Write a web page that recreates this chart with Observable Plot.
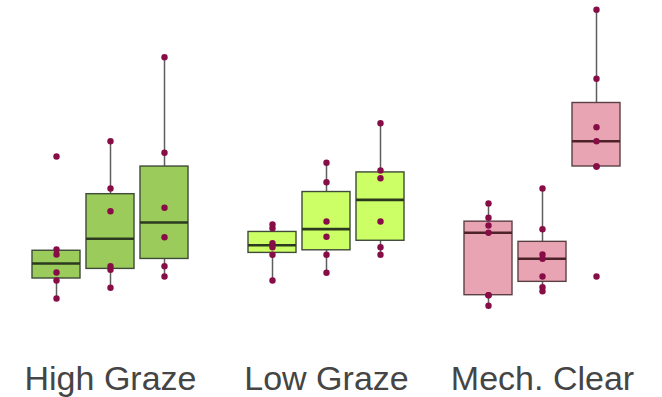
<!DOCTYPE html>
<html><head><meta charset="utf-8">
<script src="https://cdn.jsdelivr.net/npm/d3@7"></script>
<script src="https://cdn.jsdelivr.net/npm/@observablehq/plot@0.6"></script>
<style>body{margin:0;background:#fff;} svg text{font-family:"Liberation Sans", Arial, sans-serif !important;}</style>
</head><body><div id="chart"></div>
<script>
// Treatments (groups) and the three plots shown for each
const groups = ["High Graze", "Low Graze", "Mech. Clear"];
const plots = ["1", "2", "3"];

// Values per plot (arbitrary units)
const highGraze1 = [164, 71, 66, 48, 40, 22];
const highGraze2 = [179.3, 132, 109.3, 54.3, 50.7, 32.7];
const highGraze3 = [263.3, 167.7, 112.7, 83.3, 54.3, 44];
const lowGraze1 = [96, 92.3, 77.3, 73.3, 65.7, 40];
const lowGraze2 = [157.7, 138.3, 99, 83.7, 65.7, 47.7];
const lowGraze3 = [197.3, 150, 142.3, 99, 73.3, 65.7];
const mechClear1 = [117, 102.7, 95, 87.7, 25.3, 25.3, 14.7];
const mechClear2 = [132, 91.3, 66, 61.7, 44, 33.3, 29.3];
const mechClear3 = [310.7, 241.7, 193.3, 179.3, 154, 154, 44];

const seriesByGroup = {
  "High Graze": [highGraze1, highGraze2, highGraze3],
  "Low Graze": [lowGraze1, lowGraze2, lowGraze3],
  "Mech. Clear": [mechClear1, mechClear2, mechClear3]
};

// Styles
const fillColor = {"High Graze": "#9acb5b", "Low Graze": "#ccff66", "Mech. Clear": "#e9a4b4"};
const edgeColor = {"High Graze": "#3f4a38", "Low Graze": "#3f4a38", "Mech. Clear": "#5a4045"};
const medianColor = {"High Graze": "#2b3a1e", "Low Graze": "#2b3a1e", "Mech. Clear": "#4e2229"};

const key = (g, p) => `${g}|${p}`;
const domain = [];
groups.forEach((g, i) => {
  plots.forEach(p => domain.push(key(g, p)));
  if (i < groups.length - 1) domain.push(`gap${i}`);
});

const points = [];
const stats = [];
groups.forEach(g => {
  seriesByGroup[g].forEach((vals, j) => {
    const k = key(g, plots[j]);
    vals.forEach(v => points.push({group: g, key: k, value: v}));
    const s = vals.slice().sort(d3.ascending);
    const q1 = d3.quantile(s, 0.25), med = d3.quantile(s, 0.5), q3 = d3.quantile(s, 0.75);
    const iqr = q3 - q1;
    const lo = d3.min(s.filter(v => v >= q1 - 1.5 * iqr));
    const hi = d3.max(s.filter(v => v <= q3 + 1.5 * iqr));
    stats.push({group: g, key: k, q1, med, q3, lo, hi});
  });
});

const chart = Plot.plot({
  width: 662,
  height: 397,
  marginLeft: 29,
  marginRight: 39,
  marginTop: 0,
  marginBottom: 77,
  x: {domain, paddingInner: 0.111, paddingOuter: 0.0555, axis: null},
  y: {domain: [0, 320], axis: null},
  style: {fontFamily: "Liberation Sans, Arial, sans-serif", background: "#fff"},
  marks: [
    Plot.ruleX(stats, {x: "key", y1: "lo", y2: "hi", stroke: "#5e5e5e", strokeWidth: 1.5}),
    Plot.barY(stats, {
      x: "key", y1: "q1", y2: "q3", inset: 0,
      fill: {value: d => fillColor[d.group], scale: null},
      stroke: {value: d => edgeColor[d.group], scale: null},
      strokeWidth: 1.4
    }),
    Plot.tickY(stats, {
      x: "key", y: "med",
      stroke: {value: d => medianColor[d.group], scale: null},
      strokeWidth: 2.6
    }),
    Plot.dot(points, {x: "key", y: "value", r: 3.2, fill: "#870d47", stroke: null}),
    Plot.text(groups, {
      x: d => key(d, plots[1]), text: d => d,
      frameAnchor: "bottom", lineAnchor: "top", dy: 45,
      fontSize: 34, fontFamily: "Liberation Sans", fill: "#454545"
    })
  ]
});
document.getElementById("chart").appendChild(chart);
</script>
</body></html>
